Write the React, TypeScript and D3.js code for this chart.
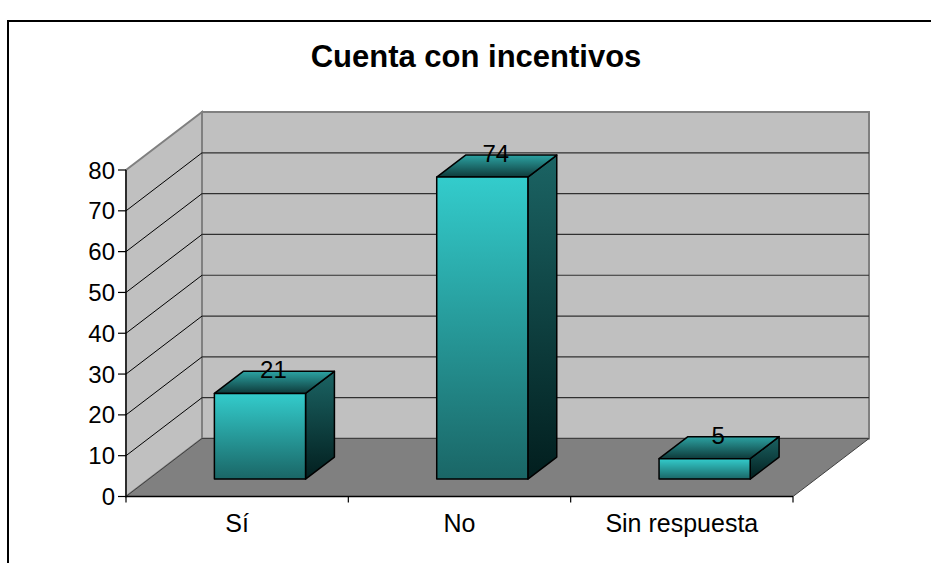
import React from 'react';
import * as d3 from 'd3';

const categories = ['Sí', 'No', 'Sin respuesta'];
const values = [21, 74, 5];
const yTicks = [0, 10, 20, 30, 40, 50, 60, 70, 80];
const title = 'Cuenta con incentivos';

const W = 931;
const H = 563;
const FONT = '"Liberation Sans", Arial, sans-serif';

// front plane of the 3D box
const left = 126;
const right = 793;
const bottom = 496.5;
const top = 170;
// depth vector of the floor
const DX = 76;
const DY = -58;
// bar sits between these fractions of the depth
const F0 = 0.3;
const FD = 0.38;

export default function App() {
  const y = d3.scaleLinear().domain([0, 80]).range([bottom, top]);
  const x = d3.scaleBand<string>()
    .domain(categories)
    .range([left, right])
    .paddingInner(0.59)
    .paddingOuter(0.295);
  const step = x.step();
  const bounds = d3.range(categories.length + 1).map(i => left + i * step);

  const wallPath = d3.path();
  wallPath.moveTo(left, y(80));
  wallPath.lineTo(left + DX, y(80) + DY);
  wallPath.lineTo(left + DX, bottom + DY);
  wallPath.lineTo(left, bottom);
  wallPath.closePath();

  const floorPath = d3.path();
  floorPath.moveTo(left, bottom);
  floorPath.lineTo(right, bottom);
  floorPath.lineTo(right + DX, bottom + DY);
  floorPath.lineTo(left + DX, bottom + DY);
  floorPath.closePath();

  const bdx = FD * DX;
  const bdy = FD * DY;

  return (
    <div style={{ position: 'fixed', left: 0, top: 0 }}>
      <svg width={W} height={H} style={{ display: 'block', background: '#fff' }}>
        <defs>
          <linearGradient id="gFront" x1="0" y1="0" x2="0" y2="1">
            <stop offset="0" stopColor="#33CCCC" />
            <stop offset="1" stopColor="#1A6666" />
          </linearGradient>
          <linearGradient id="gSide" x1="0" y1="0" x2="0" y2="1">
            <stop offset="0" stopColor="#1B6464" />
            <stop offset="1" stopColor="#021E1E" />
          </linearGradient>
          <linearGradient id="gTop" x1="0" y1="0" x2="0" y2="1">
            <stop offset="0" stopColor="#2CA3A3" />
            <stop offset="1" stopColor="#0E3A3A" />
          </linearGradient>
        </defs>

        {/* outer frame */}
        <rect x={8} y={21} width={1000} height={1000} fill="none" stroke="#000" strokeWidth={2} />

        <text x={476} y={67} textAnchor="middle" fontFamily={FONT} fontSize={31} fontWeight="bold">
          {title}
        </text>

        {/* back wall */}
        <rect x={left + DX} y={y(80) + DY} width={right - left} height={bottom - y(80)}
          fill="#C0C0C0" stroke="#808080" strokeWidth={2} />
        {/* side wall */}
        <path d={wallPath.toString()} fill="#C0C0C0" stroke="#808080" strokeWidth={2} />
        {/* floor */}
        <path d={floorPath.toString()} fill="#808080" stroke="#404040" strokeWidth={1} />

        {/* gridlines */}
        {yTicks.filter(t => t > 0 && t < 80).map(t => (
          <g key={t}>
            <line x1={left + DX} x2={right + DX} y1={y(t) + DY} y2={y(t) + DY} stroke="#303030" strokeWidth={1.2} />
            <line x1={left} x2={left + DX} y1={y(t)} y2={y(t) + DY} stroke="#000" strokeWidth={1} />
          </g>
        ))}

        {/* bars */}
        {categories.map((c, i) => {
          const xL = (x(c) as number) + F0 * DX;
          const xR = xL + x.bandwidth();
          const yB = y(0) + F0 * DY;
          const yT = y(values[i]) + F0 * DY;
          const side = `M${xR},${yT}L${xR + bdx},${yT + bdy}L${xR + bdx},${yB + bdy}L${xR},${yB}Z`;
          const topF = `M${xL},${yT}L${xL + bdx},${yT + bdy}L${xR + bdx},${yT + bdy}L${xR},${yT}Z`;
          return (
            <g key={c} stroke="#000" strokeWidth={1.5} strokeLinejoin="round">
              <path d={side} fill="url(#gSide)" />
              <path d={topF} fill="url(#gTop)" />
              <rect x={xL} y={yT} width={xR - xL} height={yB - yT} fill="url(#gFront)" />
            </g>
          );
        })}

        {/* data labels */}
        {categories.map((c, i) => {
          const cx = (x(c) as number) + F0 * DX + x.bandwidth() / 2 + bdx / 2;
          const cy = y(values[i]) + F0 * DY + bdy / 2;
          return (
            <text key={c} x={cx - 1} y={cy - 4} textAnchor="middle" fontFamily={FONT} fontSize={24} fill="#000">
              {values[i]}
            </text>
          );
        })}

        {/* axes */}
        <line x1={left} x2={left} y1={top} y2={bottom} stroke="#000" strokeWidth={1.3} />
        <line x1={left} x2={right} y1={bottom} y2={bottom} stroke="#000" strokeWidth={1.3} />
        {yTicks.map(t => (
          <g key={t}>
            <line x1={left - 8} x2={left} y1={y(t)} y2={y(t)} stroke="#000" strokeWidth={1.2} />
            <text x={115} y={y(t) + 8.5} textAnchor="end" fontFamily={FONT} fontSize={24} fill="#000">
              {t}
            </text>
          </g>
        ))}
        {bounds.map((b, i) => (
          <line key={i} x1={b} x2={b} y1={bottom} y2={bottom + 6} stroke="#000" strokeWidth={1.2} />
        ))}
        {categories.map(c => (
          <text key={c} x={(x(c) as number) + x.bandwidth() / 2} y={532} textAnchor="middle"
            fontFamily={FONT} fontSize={25} fill="#000">
            {c}
          </text>
        ))}
      </svg>
    </div>
  );
}
